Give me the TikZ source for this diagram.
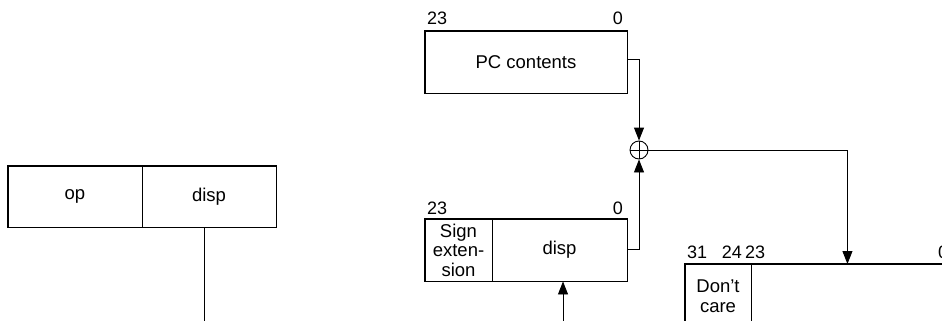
\documentclass[tikz,border=0pt]{standalone}
\usepackage{fontspec}
\setmainfont{Liberation Sans}
\usetikzlibrary{arrows.meta,calc}
\begin{document}
\begin{tikzpicture}[x=1pt,y=1pt,
  cell/.style={draw,line width=0.9pt,inner sep=0pt,minimum height=61pt,align=center,font=\fontsize{18.5}{19.5}\selectfont},
  outer/.style={line width=1.8pt},
  conn/.style={line width=0.9pt},
  arr/.style={conn,-{Triangle[width=10pt,length=13pt]}},
  lbl/.style={inner sep=0pt,font=\fontsize{18}{19.5}\selectfont}]
\useasboundingbox (0,0) rectangle (942,-321);
% left instruction
\node[cell,minimum width=134pt] (op) at (75,-196.5) {op};
\node[cell,minimum width=134pt] (d1) at (209,-196.5) {disp};
\draw[outer] (op.north west) rectangle (d1.south east);
\coordinate (e1) at (204,-321);
\draw[conn] (e1 |- d1.south) -- (e1);
% PC
\node[cell,minimum width=202pt,minimum height=62pt] (pc) at (526,-62) {PC contents};
\draw[outer] (pc.north west) rectangle (pc.south east);
\node[lbl,anchor=base west] (pc23) at (427,-25) {23};
\node[lbl,anchor=base east] (pc0) at (623,-25) {0};
% sign-extended disp
\node[cell,minimum width=67pt,minimum height=62pt] (se) at (458.5,-250) {Sign\\exten-\\sion};
\node[cell,minimum width=135pt,minimum height=62pt] (d2) at (559.5,-250) {disp};
\draw[outer] (se.north west) rectangle (d2.south east);
\node[lbl,anchor=base west] (se23) at (427,-214) {23};
\node[lbl,anchor=base east] (se0) at (623,-214) {0};
% adder
\node[draw,circle,line width=0.9pt,minimum size=18pt,inner sep=0pt] (sum) at (639,-150) {};
\draw[conn] (sum.north) -- (sum.south) (sum.west) -- (sum.east);
\draw[arr] ([yshift=3pt]pc.east) -| (sum.north);
\draw[arr] ([yshift=1pt]d2.east) -| (sum.south);
% result
\node[cell,minimum width=66pt,minimum height=76pt,anchor=north west] (dc) at (685,-264) {};
\node[lbl,anchor=north,align=center,font=\fontsize{18.5}{19.5}\selectfont] (dct) at (718,-280) {Don’t\\care};
\node[cell,minimum width=192pt,minimum height=76pt,anchor=north west] (rest) at (751,-264) {};
\draw[outer] (dc.south west) -- (dc.north west) -- (rest.north east);
\node[lbl,anchor=base west] (r31) at (687,-258) {31};
\node[lbl,anchor=base east] (r24) at (742,-258) {24};
\node[lbl,anchor=base west] (r23) at (745,-258) {23};
\node[lbl,anchor=base west] (r0) at (938,-258) {0};
\draw[arr] (sum.east) -| (rest.north);
\coordinate (b2) at (563,-321);
\draw[arr] (b2) -- (b2 |- d2.south);
\end{tikzpicture}
\end{document}
